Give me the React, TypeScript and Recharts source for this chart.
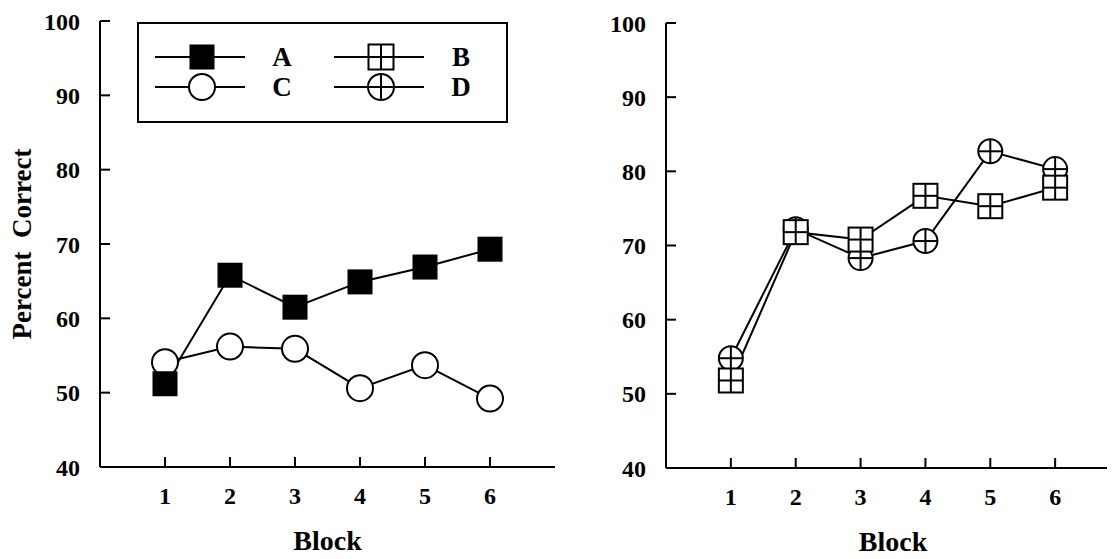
import React from 'react';
import { LineChart, Line, XAxis, YAxis, Legend, Label } from 'recharts';

const blocks = [1, 2, 3, 4, 5, 6];
const seriesA = [51.2, 65.8, 61.5, 64.9, 66.9, 69.3];
const seriesC = [54.1, 56.2, 55.9, 50.6, 53.7, 49.2];
const seriesB = [51.8, 71.8, 70.8, 76.7, 75.3, 77.8];
const seriesD = [54.8, 72.2, 68.3, 70.6, 82.7, 80.3];
const yTicks = [40, 50, 60, 70, 80, 90, 100];
const xTicks = [1, 2, 3, 4, 5, 6];
const legendNames = ['A', 'B', 'C', 'D'];

const data = blocks.map((b, i) => ({
  block: b,
  A: seriesA[i],
  B: seriesB[i],
  C: seriesC[i],
  D: seriesD[i],
}));

const FONT = '"Liberation Serif", "Times New Roman", serif';

type Kind = 'A' | 'B' | 'C' | 'D';

function marker(kind: Kind, cx: number, cy: number, sq: number, r: number, key?: string) {
  const h = sq / 2;
  if (kind === 'A') {
    return <rect key={key} x={cx - h} y={cy - h} width={sq} height={sq} fill="#000" />;
  }
  if (kind === 'B') {
    return (
      <g key={key}>
        <rect x={cx - h} y={cy - h} width={sq} height={sq} fill="#fff" stroke="#000" strokeWidth={2} />
        <line x1={cx} y1={cy - h} x2={cx} y2={cy + h} stroke="#000" strokeWidth={2} />
        <line x1={cx - h} y1={cy} x2={cx + h} y2={cy} stroke="#000" strokeWidth={2} />
      </g>
    );
  }
  if (kind === 'C') {
    return <circle key={key} cx={cx} cy={cy} r={r} fill="#fff" stroke="#000" strokeWidth={2} />;
  }
  return (
    <g key={key}>
      <circle cx={cx} cy={cy} r={r} fill="#fff" stroke="#000" strokeWidth={2} />
      <line x1={cx} y1={cy - r} x2={cx} y2={cy + r} stroke="#000" strokeWidth={2} />
      <line x1={cx - r} y1={cy} x2={cx + r} y2={cy} stroke="#000" strokeWidth={2} />
    </g>
  );
}

const dotFor = (kind: Kind, sq: number, r: number) => (p: any) => {
  if (p.cx == null || p.cy == null) return <g key={`${kind}-${p.index}`} />;
  return marker(kind, p.cx, p.cy, sq, r, `${kind}-${p.index}`);
};

const tickStyle = { fill: '#000', fontSize: 24, fontWeight: 'bold' as const, fontFamily: FONT };
const axisStroke = { stroke: '#000', strokeWidth: 2 };

const renderLegend = () => {
  const W = 371;
  const H = 101;
  return (
    <svg width={W} height={H} style={{ display: 'block' }}>
      <rect x={1} y={1} width={W - 2} height={H - 2} fill="#fff" stroke="#000" strokeWidth={2} />
      {legendNames.map((name, i) => {
        const col = i % 2;
        const row = Math.floor(i / 2);
        const x0 = col === 0 ? 18 : 197;
        const cy = row === 0 ? 35 : 65;
        const kind = name as Kind;
        return (
          <g key={name}>
            <line x1={x0} y1={cy} x2={x0 + 90} y2={cy} stroke="#000" strokeWidth={2} />
            {marker(kind, x0 + 47, cy, 25, 13)}
            <text
              x={x0 + 127}
              y={cy + 9}
              textAnchor="middle"
              fontSize={27}
              fontWeight="bold"
              fontFamily={FONT}
              fill="#000"
            >
              {name}
            </text>
          </g>
        );
      })}
    </svg>
  );
};

const yLabel = (props: any) => {
  const vb = props.viewBox || { x: 40, y: 21, width: 60, height: 446 };
  const cx = vb.x - 18;
  const cy = vb.y + vb.height / 2;
  return (
    <text
      transform={`translate(${cx},${cy}) rotate(-90)`}
      textAnchor="middle"
      dominantBaseline="central"
      fontSize={27}
      fontWeight="bold"
      fontFamily={FONT}
      fill="#000"
    >
      Percent{'\u00A0\u00A0'}Correct
    </text>
  );
};

export default function App() {
  return (
    <div
      style={{
        position: 'relative',
        width: 1115,
        height: 559,
        overflow: 'hidden',
        margin: -8,
        background: '#fff',
      }}
    >
      <div style={{ position: 'absolute', left: 0, top: 0 }}>
        <LineChart width={560} height={559} data={data} margin={{ top: 21, right: 5, left: 40, bottom: 12 }}>
          <XAxis
            dataKey="block"
            type="number"
            domain={[0, 7]}
            ticks={xTicks}
            interval={0}
            height={80}
            tickSize={-10}
            tickMargin={30}
            axisLine={axisStroke}
            tickLine={axisStroke}
            tick={tickStyle}
          >
            <Label value="Block" position="insideBottom" offset={-3} fontSize={28} fontWeight="bold" fontFamily={FONT} fill="#000" />
          </XAxis>
          <YAxis
            type="number"
            domain={[40, 100]}
            ticks={yTicks}
            interval={0}
            width={60}
            tickSize={-10}
            tickMargin={30}
            axisLine={axisStroke}
            tickLine={axisStroke}
            tick={tickStyle}
          >
            <Label content={yLabel} />
          </YAxis>
          <Legend
            layout="vertical"
            verticalAlign="middle"
            align="center"
            content={renderLegend}
            wrapperStyle={{ position: 'absolute', left: 137, top: 22, width: 371, height: 101 }}
          />
          <Line dataKey="C" stroke="#000" strokeWidth={2} dot={dotFor('C', 25, 13)} isAnimationActive={false} activeDot={false} />
          <Line dataKey="A" stroke="#000" strokeWidth={2} dot={dotFor('A', 25, 13)} isAnimationActive={false} activeDot={false} />
        </LineChart>
      </div>
      <div style={{ position: 'absolute', left: 600, top: 0 }}>
        <LineChart width={520} height={559} data={data} margin={{ top: 23, right: 0, left: 6, bottom: 11 }}>
          <XAxis
            dataKey="block"
            type="number"
            domain={[0, 7]}
            ticks={xTicks}
            interval={0}
            height={80}
            tickSize={-10}
            tickMargin={30}
            axisLine={axisStroke}
            tickLine={axisStroke}
            tick={tickStyle}
          >
            <Label value="Block" position="insideBottom" offset={-3} fontSize={28} fontWeight="bold" fontFamily={FONT} fill="#000" />
          </XAxis>
          <YAxis
            type="number"
            domain={[40, 100]}
            ticks={yTicks}
            interval={0}
            width={60}
            tickSize={-10}
            tickMargin={30}
            axisLine={axisStroke}
            tickLine={axisStroke}
            tick={tickStyle}
          />
          <Line dataKey="D" stroke="#000" strokeWidth={2} dot={dotFor('D', 24, 12)} isAnimationActive={false} activeDot={false} />
          <Line dataKey="B" stroke="#000" strokeWidth={2} dot={dotFor('B', 24, 12)} isAnimationActive={false} activeDot={false} />
        </LineChart>
      </div>
    </div>
  );
}
